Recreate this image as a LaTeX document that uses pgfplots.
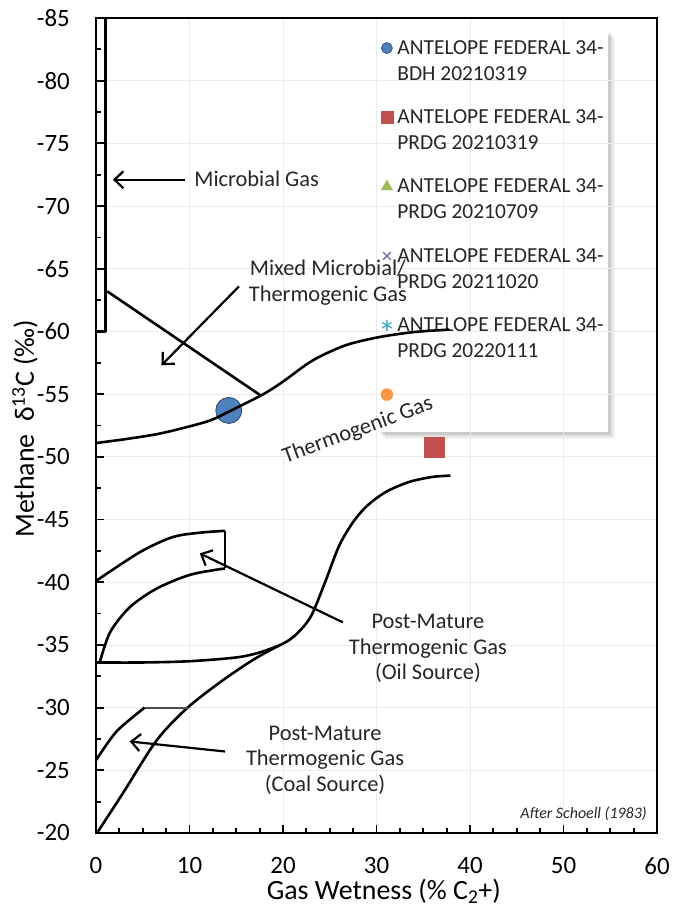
\documentclass[border=0pt]{standalone}
\usepackage{fontspec}
\setmainfont{Carlito}
\usepackage{pgfplots}
\pgfplotsset{compat=1.18}
\usetikzlibrary{arrows.meta}

\definecolor{cblue}{HTML}{4F81BD}
\definecolor{cred}{HTML}{C0504D}
\definecolor{cgreen}{HTML}{9BBB59}
\definecolor{cpurple}{HTML}{8064A2}
\definecolor{cteal}{HTML}{4BACC6}
\definecolor{corange}{HTML}{F79646}
\definecolor{txt}{HTML}{262626}

\newcommand{\annfont}{\fontsize{22.5}{25.5}\selectfont}
\tikzset{ann/.style={font=\annfont, text=txt}}

\pgfplotsset{
  layers/withtop/.define layer set={axis background,axis grid,axis ticks,axis lines,axis tick labels,pre main,main,axis descriptions,axis foreground,annot}{},
  dot legend/.style={legend image code/.code={%
      \draw[##1] plot coordinates {(0bp,13bp)};}},
  curve/.style={forget plot, on layer=annot, black, line width=2.6bp, line join=round},
  arr/.style={forget plot, on layer=annot, black, line width=2.2bp, -{Straight Barb[length=9bp,width=17bp]}},
}

\begin{document}
\begin{tikzpicture}
\begin{axis}[
  set layers=withtop,
  scale only axis, width=561bp, height=815bp,
  xmin=0, xmax=60, ymin=-85, ymax=-20, y dir=reverse,
  clip=false,
  xtick={0,10,...,60}, ytick={-85,-80,...,-20},
  minor x tick num=3, minor y tick num=1,
  tick pos=left, tick align=inside,
  major tick length=8bp, minor tick length=5bp,
  every tick/.style={black, line width=1.8bp},
  axis line style={black, line width=2.8bp},
  grid=major, major grid style={black!8, line width=0.8bp},
  /pgf/number format/assume math mode=true,
  ticklabel style={font=\fontsize{25}{30}\selectfont, text=black},
  xticklabel style={anchor=center, yshift=-33bp},
  yticklabel style={anchor=east, inner sep=0pt, xshift=-26bp},
  xlabel={Gas Wetness (\%~C\textsubscript{2}+)},
  ylabel={Methane\ \ δ\textsuperscript{13}C (‰)},
  label style={font=\fontsize{28}{33}\selectfont, text=black, inner sep=0pt},
  xlabel style={at={(axis description cs:0.513,-0.0715)}, anchor=center},
  ylabel style={at={(axis description cs:-0.1266,0.496)}, anchor=center},
  legend style={at={(axis description cs:0.503,0.985)}, anchor=north west,
    draw=none, fill=none,
    font=\fontsize{21.5}{26}\selectfont, text=txt,
    cells={anchor=west, align=left},
    nodes={inner sep=0pt},
    inner xsep=2.5bp, inner ysep=10bp, row sep=28bp,
    /tikz/every odd column/.append style={column sep=4.5bp}},
]

% legend panel with soft shadow (drawn under the legend entries)
\begin{pgfonlayer}{pre main}
\fill[black, opacity=0.05] ([xshift=7bp,yshift=-7bp]axis description cs:0.503,0.492) rectangle ([xshift=7bp,yshift=-7bp]axis description cs:0.913,0.985);
\fill[black, opacity=0.07] ([xshift=5bp,yshift=-5bp]axis description cs:0.503,0.492) rectangle ([xshift=5bp,yshift=-5bp]axis description cs:0.913,0.985);
\fill[black, opacity=0.10] ([xshift=3bp,yshift=-3bp]axis description cs:0.503,0.492) rectangle ([xshift=3bp,yshift=-3bp]axis description cs:0.913,0.985);
\fill[white] (axis description cs:0.503,0.492) rectangle (axis description cs:0.913,0.985);
\end{pgfonlayer}

% data points
\addplot[forget plot, only marks, mark=*, mark size=13bp,
  mark options={fill=cblue, draw=cblue!55!black, line width=0.8bp}] coordinates {(14.2,-53.7)};
\addplot[forget plot, only marks, mark=square*, mark size=10bp,
  mark options={fill=cred, draw=cred}] coordinates {(36.2,-50.8)};

% legend entries
\addlegendimage{dot legend, only marks, mark=*, mark size=5.5bp, mark options={fill=cblue, draw=cblue!55!black, line width=0.6bp}}
\addlegendimage{dot legend, only marks, mark=square*, mark size=6bp, mark options={fill=cred, draw=cred}}
\addlegendimage{dot legend, only marks, mark=triangle*, mark size=6.5bp, mark options={fill=cgreen, draw=cgreen}}
\addlegendimage{dot legend, only marks, mark=x, mark size=5.5bp, mark options={draw=cpurple, line width=1.3bp}}
\addlegendimage{dot legend, only marks, mark=asterisk, mark size=5.5bp, mark options={draw=cteal, line width=1.3bp}}
\addlegendimage{dot legend, only marks, mark=*, mark size=6bp, mark options={fill=corange, draw=corange}}
\legend{{ANTELOPE FEDERAL 34-\\BDH 20210319},
        {ANTELOPE FEDERAL 34-\\PRDG 20210319},
        {ANTELOPE FEDERAL 34-\\PRDG 20210709},
        {ANTELOPE FEDERAL 34-\\PRDG 20211020},
        {ANTELOPE FEDERAL 34-\\PRDG 20220111},
        {\phantom{ANTELOPE}\\\phantom{PRDG}}}

% Schoell (1983) field boundaries
\addplot[curve, line width=2.8bp] coordinates {(0,-85)(1,-85)(1,-60)(0,-60)};
\addplot[curve] coordinates {(1.2,-63.2)(17.6,-54.9)};
\addplot[curve, smooth] coordinates {(0,-51.1)(3.5,-51.45)(7.1,-51.9)(11.8,-52.8)(14.2,-53.6)(17.9,-55.0)(20,-56.0)(23.2,-57.7)(26.7,-58.9)(30.3,-59.55)(34,-59.95)(37.8,-60.15)};
\addplot[curve, smooth] coordinates {(0,-40.1)(4.7,-42.4)(8.2,-43.6)(11.1,-43.95)(13.8,-44.1)};
\addplot[curve] coordinates {(13.8,-44.1)(13.8,-41.1)};
\addplot[curve, smooth] coordinates {(0.4,-33.6)(1.5,-36.0)(3.6,-38.0)(6.5,-39.5)(10.1,-40.6)(13.8,-41.1)};
\addplot[curve, smooth] coordinates {(0,-33.6)(5,-33.6)(10,-33.7)(15,-34.0)(17.5,-34.4)(20,-35.1)(21.5,-35.9)(23,-37.3)(24.5,-40.0)(26,-42.9)(27.5,-44.8)(29,-46.1)(31,-47.2)(33.5,-48.0)(36,-48.4)(37.9,-48.5)};
\addplot[curve, smooth] coordinates {(0.2,-20.1)(2.9,-23.2)(6.5,-27.4)(9.8,-30)(13.6,-32.2)(17,-33.9)(19.7,-35.0)};
\addplot[curve, smooth] coordinates {(0,-25.8)(2.2,-28.1)(5.2,-30)};
\addplot[curve, line width=1.8bp, black!70] coordinates {(5.2,-30)(9.8,-30)};

% arrows
\addplot[arr] coordinates {(9.5,-72.1)(1.8,-72.1)};
\addplot[arr] coordinates {(15.3,-63.6)(7.0,-57.3)};
\addplot[arr] coordinates {(26.4,-36.8)(11.1,-42.3)};
\addplot[arr] coordinates {(13.8,-26.5)(3.6,-27.3)};

\begin{pgfonlayer}{annot}
\node[ann, anchor=west, inner sep=0pt] at (axis cs:10.5,-72.2) {Microbial Gas};
\node[ann, align=center] at (axis cs:24.8,-63.9) {Mixed Microbial/\\Thermogenic Gas};
\node[ann, align=center] at (axis cs:35.5,-34.7) {Post-Mature\\Thermogenic Gas\\(Oil Source)};
\node[ann, align=center] at (axis cs:24.5,-25.8) {Post-Mature\\Thermogenic Gas\\(Coal Source)};
\node[ann, rotate=20] at (axis cs:28,-52.1) {Thermogenic Gas};
\node[anchor=east, inner sep=0pt, text=txt, font=\fontsize{16}{19}\selectfont\itshape] at (axis description cs:0.982,0.023) {After Schoell (1983)};
\end{pgfonlayer}
\end{axis}
\pgfresetboundingbox
\path (-96bp,-75bp) rectangle (577bp,833bp);
\end{tikzpicture}
\end{document}
